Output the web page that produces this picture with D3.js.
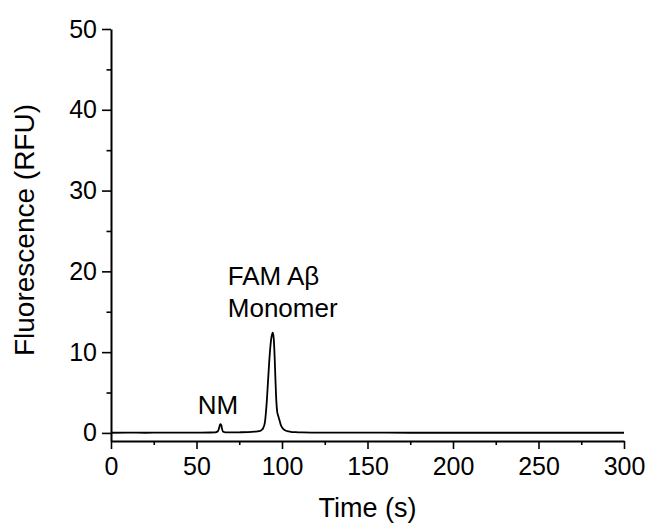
<!DOCTYPE html>
<html>
<head>
<meta charset="utf-8">
<script src="https://d3js.org/d3.v7.min.js"></script>
<style>
  body { margin: 0; background: #fff; }
  text { font-family: "Liberation Sans", Arial, sans-serif; fill: #000; }
  .axis path, .axis line { stroke: #000; }
</style>
</head>
<body>
<div id="chart"></div>
<script>
// electropherogram trace
var times = [0, 10, 20, 30, 40, 50, 58, 61, 62.5, 63.2, 63.7, 64.1, 64.5, 65, 65.6, 67, 70, 75, 80, 84, 86.5, 88, 89, 90, 91, 92, 93, 93.8, 94.6, 95.2, 95.7, 96.2, 96.7, 97.2, 97.8, 98.5, 99.3, 100.3, 101.5, 103, 105, 108, 112, 120, 135, 150, 175, 200, 225, 250, 275, 300];
var rfu   = [0.02, 0.03, 0.02, 0.03, 0.03, 0.04, 0.05, 0.07, 0.2, 0.6, 1.0, 1.1, 0.95, 0.45, 0.15, 0.08, 0.07, 0.08, 0.1, 0.15, 0.22, 0.35, 0.6, 1.3, 3.6, 7.0, 10.2, 11.8, 12.4, 11.6, 9.4, 6.4, 3.9, 2.6, 2.1, 1.6, 1.0, 0.6, 0.35, 0.22, 0.14, 0.09, 0.06, 0.04, 0.03, 0.03, 0.02, 0.02, 0.02, 0.02, 0.02, 0.02];

var xTicks = [0, 50, 100, 150, 200, 250, 300];
var xMinor = [25, 75, 125, 175, 225, 275];
var yTicks = [0, 10, 20, 30, 40, 50];
var yMinor = [5, 15, 25, 35, 45];

// peak labels in data coordinates
var labels = [
  {text: "NM", t: 62.5, v: 2.3, anchor: "middle"},
  {text: "FAM A\u03b2", t: 68.3, v: 18.3, anchor: "start"},
  {text: "Monomer", t: 68.3, v: 14.4, anchor: "start"}
];

var margin = {top: 29, right: 23, bottom: 83, left: 111},
    width = 647 - margin.left - margin.right,
    height = 524 - margin.top - margin.bottom;

var svg = d3.select("#chart").append("svg")
    .attr("width", 647)
    .attr("height", 524)
  .append("g")
    .attr("transform", "translate(" + margin.left + "," + margin.top + ")");

var x = d3.scaleLinear().domain([0, 300]).range([0, width]);
var y = d3.scaleLinear().domain([-1, 50]).range([height, 0]);

// minor ticks first so the axes sit on top
svg.append("g")
    .attr("class", "axis")
    .attr("transform", "translate(0," + height + ")")
    .call(d3.axisBottom(x).tickValues(xMinor).tickSize(4).tickFormat(""))
    .call(function(g) { g.select(".domain").remove(); })
    .selectAll("line").attr("stroke-width", 1.6);

svg.append("g")
    .attr("class", "axis")
    .call(d3.axisLeft(y).tickValues(yMinor).tickSize(4.5).tickFormat(""))
    .call(function(g) { g.select(".domain").remove(); })
    .selectAll("line").attr("stroke-width", 1.6);

// x axis
var xAxis = svg.append("g")
    .attr("class", "axis")
    .attr("transform", "translate(0," + height + ")")
    .call(d3.axisBottom(x).tickValues(xTicks).tickSize(8).tickSizeOuter(0).tickPadding(8));
xAxis.select(".domain").attr("stroke-width", 2);
xAxis.selectAll("line").attr("stroke-width", 1.6);
xAxis.selectAll("text").style("font-size", "25px");

// y axis
var yAxis = svg.append("g")
    .attr("class", "axis")
    .call(d3.axisLeft(y).tickValues(yTicks).tickSize(9).tickSizeOuter(0).tickPadding(5));
yAxis.select(".domain").attr("stroke-width", 2);
yAxis.selectAll("line").attr("stroke-width", 1.6);
yAxis.selectAll("text").style("font-size", "25px");

// the trace
var line = d3.line()
    .x(function(d, i) { return x(times[i]); })
    .y(function(d) { return y(d); })
    .curve(d3.curveMonotoneX);

svg.append("path")
    .datum(rfu)
    .attr("fill", "none")
    .attr("stroke", "#000")
    .attr("stroke-width", 1.8)
    .attr("stroke-linejoin", "round")
    .attr("d", line);

// peak labels
svg.selectAll(".peak-label")
    .data(labels)
  .enter().append("text")
    .attr("class", "peak-label")
    .attr("x", function(d) { return x(d.t); })
    .attr("y", function(d) { return y(d.v); })
    .attr("text-anchor", function(d) { return d.anchor; })
    .style("font-size", "26px")
    .text(function(d) { return d.text; });

// axis titles
svg.append("text")
    .attr("x", width / 2)
    .attr("y", height + 76)
    .attr("text-anchor", "middle")
    .style("font-size", "27px")
    .text("Time (s)");

svg.append("text")
    .attr("transform", "translate(" + (-77) + "," + 201 + ") rotate(-90)")
    .attr("text-anchor", "middle")
    .style("font-size", "28px")
    .text("Fluorescence (RFU)");
</script>
</body>
</html>
